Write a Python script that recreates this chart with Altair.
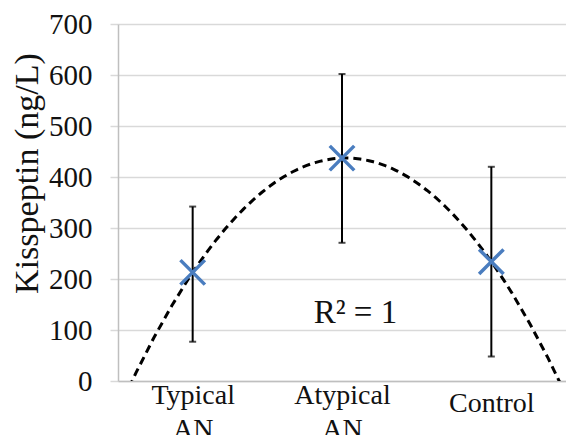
import altair as alt
import pandas as pd

# ---- data ----
groups = ["Typical AN", "Atypical AN", "Control"]
group_pos = [1, 2, 3]
means = [213, 437, 234]
err_low = [77, 271, 48]
err_high = [342, 602, 420]
y_ticks = [0, 100, 200, 300, 400, 500, 600, 700]
annot_text = ["R² = 1"]
annot_x = [2.09]
annot_y = [114]

df = pd.DataFrame({"group": groups, "pos": group_pos, "mean": means,
                   "low": err_low, "high": err_high})
df_annot = pd.DataFrame({"x": annot_x, "y": annot_y, "label": annot_text})

FONT = "Liberation Serif"
GRID = "#d9d9d9"
BLUE = "#4a7dbf"

label_expr = ("datum.value == 1 ? ['Typical', 'AN'] : "
              "datum.value == 2 ? ['Atypical', 'AN'] : 'Control'")

x_scale = alt.Scale(domain=[0.5, 3.5], nice=False, zero=False)
y_scale = alt.Scale(domain=[0, 700], nice=False, zero=True)

x_axis = alt.Axis(values=group_pos, labelExpr=label_expr, title=None,
                  grid=False, ticks=False, domainColor="#bfbfbf", domainWidth=1.5,
                  labelFont=FONT, labelFontSize=28, labelColor="#111111",
                  labelBaseline="alphabetic",
                  labelPadding={"condition": {"test": "datum.value == 3", "value": 30},
                                "value": 22},
                  labelLineHeight=34,
                  labelFlush=False, labelOverlap=False)
y_axis = alt.Axis(values=y_ticks, title="Kisspeptin (ng/L)", titleFont=FONT,
                  titleFontSize=34, titleFontWeight="normal", titleColor="#111111",
                  titleAngle=-90, titleAlign="center", titleBaseline="alphabetic",
                  titleX=-81, titleY=149,
                  grid=True, gridColor=GRID, gridWidth=1.5,
                  ticks=True, tickColor=GRID, tickSize=8, tickWidth=1.5,
                  domainColor="#bfbfbf", domainWidth=1.5,
                  labelFont=FONT, labelFontSize=29, labelColor="#111111",
                  labelPadding=18)

base = alt.Chart(df)

curve = base.transform_regression(
    "pos", "mean", method="poly", order=2, extent=[0.5, 3.5]
).mark_line(clip=True, color="black", strokeWidth=3, strokeDash=[8, 5]).encode(
    x=alt.X("pos:Q", scale=x_scale, axis=x_axis),
    y=alt.Y("mean:Q", scale=y_scale, axis=y_axis),
)

bars = base.mark_rule(color="black", strokeWidth=2).encode(
    x=alt.X("pos:Q", scale=x_scale),
    y=alt.Y("low:Q", scale=y_scale),
    y2="high:Q",
)
cap_low = base.mark_tick(color="black", thickness=2, size=7, orient="horizontal").encode(
    x=alt.X("pos:Q", scale=x_scale), y=alt.Y("low:Q", scale=y_scale))
cap_high = base.mark_tick(color="black", thickness=2, size=7, orient="horizontal").encode(
    x=alt.X("pos:Q", scale=x_scale), y=alt.Y("high:Q", scale=y_scale))

marks = base.mark_point(shape="M-1,-1L1,1M-1,1L1,-1", filled=False, color=BLUE,
                        strokeWidth=3.5, size=600, opacity=1).encode(
    x=alt.X("pos:Q", scale=x_scale), y=alt.Y("mean:Q", scale=y_scale))

annot = alt.Chart(df_annot).mark_text(font=FONT, fontSize=33, color="#111111",
                                      align="center", baseline="alphabetic").encode(
    x=alt.X("x:Q", scale=x_scale), y=alt.Y("y:Q", scale=y_scale),
    text="label:N")

chart = alt.layer(curve, bars, cap_low, cap_high, marks, annot).properties(
    width=448, height=357,
    autosize=alt.AutoSizeParams(type="none"),
    padding={"left": 118, "top": 24, "right": 0, "bottom": 54},
    background="white",
).configure(font=FONT).configure_view(stroke=None)

chart.save("out.html", embed_options={"renderer": "svg", "actions": False})
